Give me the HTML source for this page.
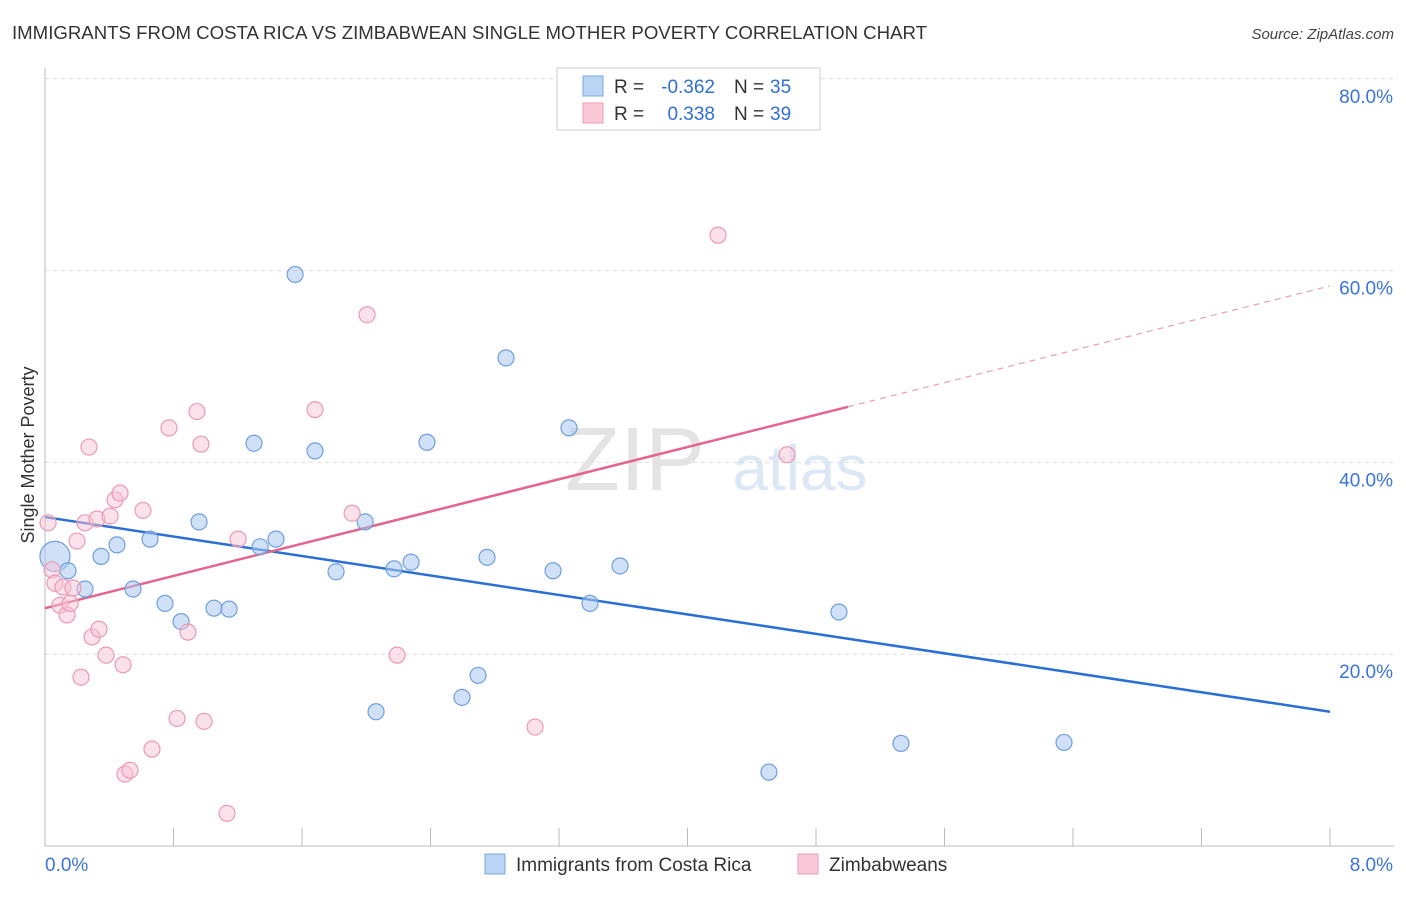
<!DOCTYPE html>
<html><head><meta charset="utf-8"><style>
body{margin:0;background:#fff;font-family:"Liberation Sans",sans-serif}
svg text{font-family:"Liberation Sans",sans-serif}
</style></head><body>
<svg id="c" width="1406" height="892" xmlns="http://www.w3.org/2000/svg">
<text x="12" y="39" font-size="18" fill="#333" textLength="915" lengthAdjust="spacingAndGlyphs">IMMIGRANTS FROM COSTA RICA VS ZIMBABWEAN SINGLE MOTHER POVERTY CORRELATION CHART</text>
<text x="1394" y="39" font-size="15" fill="#444" font-style="italic" text-anchor="end">Source: ZipAtlas.com</text>
<text x="34" y="455" font-size="18" fill="#333" text-anchor="middle" transform="rotate(-90 34 455)">Single Mother Poverty</text>
<text x="635" y="490" font-size="90" fill="#e4e4e4" font-family="Liberation Serif" text-anchor="middle">ZIP</text>
<text x="800" y="490" font-size="64" fill="#dde8f6" text-anchor="middle">atlas</text>
<g id="grid"></g><g id="lines"></g><g id="pts"></g>
<g>
<rect x="557" y="68" width="263" height="62" fill="#fff" stroke="#ccc"/>
<rect x="583" y="76" width="20" height="20" fill="#b9d4f5" stroke="#7aa8e0"/>
<rect x="583" y="103" width="20" height="20" fill="#f9c9d8" stroke="#ee9ab5"/>
<text x="614" y="93" font-size="19" fill="#333">R =</text>
<text x="715" y="93" font-size="19" fill="#2f6fd6" text-anchor="end">-0.362</text>
<text x="734" y="93" font-size="19" fill="#333">N =</text>
<text x="770" y="93" font-size="19" fill="#2f6fd6">35</text>
<text x="614" y="120" font-size="19" fill="#333">R =</text>
<text x="715" y="120" font-size="19" fill="#2f6fd6" text-anchor="end">0.338</text>
<text x="734" y="120" font-size="19" fill="#333">N =</text>
<text x="770" y="120" font-size="19" fill="#2f6fd6">39</text>
</g>
<g>
<rect x="485" y="854" width="20" height="20" fill="#b9d4f5" stroke="#7aa8e0"/>
<text x="516" y="871" font-size="19" fill="#333">Immigrants from Costa Rica</text>
<rect x="798" y="854" width="20" height="20" fill="#f9c9d8" stroke="#ee9ab5"/>
<text x="829" y="871" font-size="19" fill="#333">Zimbabweans</text>
</g>
</svg>
<script>
const yTicks=[20,40,60,80];
const xTickLabels=["0.0%","8.0%"];
const blueX=[0.062,0.143,0.249,0.349,0.448,0.548,0.654,0.747,0.847,0.959,1.052,1.146,1.301,1.339,1.438,1.557,1.681,1.812,1.993,2.061,2.173,2.279,2.378,2.596,2.696,2.752,2.870,3.163,3.262,3.393,3.580,4.507,4.943,5.329,6.344];
const blueY=[30.2,28.7,26.8,30.2,31.4,26.8,32.0,25.3,23.4,33.8,24.8,24.7,42.0,31.2,32.0,59.6,41.2,28.6,33.8,14.0,28.9,29.6,42.1,15.5,17.8,30.1,50.9,28.7,43.6,25.3,29.2,7.7,24.4,10.7,10.8];
const pinkX=[0.019,0.044,0.062,0.093,0.112,0.137,0.156,0.174,0.199,0.224,0.249,0.274,0.293,0.324,0.336,0.380,0.405,0.436,0.467,0.486,0.498,0.529,0.610,0.666,0.772,0.822,0.890,0.946,0.971,0.990,1.133,1.202,1.681,1.912,2.005,2.192,3.051,4.190,4.620];
const pinkY=[33.7,28.8,27.4,25.1,27.0,24.1,25.3,26.9,31.8,17.6,33.7,41.6,21.8,34.1,22.6,19.9,34.4,36.1,36.8,18.9,7.5,7.9,35.0,10.1,43.6,13.3,22.3,45.3,41.9,13.0,3.4,32.0,45.5,34.7,55.4,19.9,12.4,63.7,40.8];
const blueTrend=[34.3,14.0];
const pinkTrend=[24.8,58.4];
const pinkSolidEnd=5.0;
const X=v=>45+v/8*1285, Y=v=>846-v*9.59;
const NS="http://www.w3.org/2000/svg";
function mk(t,a,p){const e=document.createElementNS(NS,t);for(const k in a)e.setAttribute(k,a[k]);p.appendChild(e);return e;}
const g=document.getElementById('grid');
yTicks.forEach(v=>{
 const l=mk('line',{x1:45,x2:1394,y1:Y(v),y2:Y(v),stroke:'#ddd','stroke-dasharray':'4 4'},g);
 
 
 const t=mk('text',{x:1393,y:Y(v)+24,'font-size':19,fill:'#3a74d8','text-anchor':'end'},g);t.textContent=v.toFixed(1)+'%';
 
 
});
mk('line',{x1:45,x2:45,y1:68,y2:846,stroke:'#bbb'},g);
mk('line',{x1:45,x2:1394,y1:846,y2:846,stroke:'#bbb'},g);
for(let i=0;i<=10;i++){mk('line',{x1:X(i*0.8),x2:X(i*0.8),y1:828,y2:846,stroke:'#bbb'},g);}
xTickLabels.forEach((s,i)=>{const t=mk('text',{x:i?1393:45,y:871,'font-size':19,fill:'#3a74d8','text-anchor':i?'end':'start'},g);t.textContent=s;
 
 });
const L=document.getElementById('lines');
const pAt=x=>pinkTrend[0]+(pinkTrend[1]-pinkTrend[0])*x/8;
let l1=mk('line',{x1:X(0),y1:Y(blueTrend[0]),x2:X(8),y2:Y(blueTrend[1]),stroke:'#2a6fd6','stroke-width':2.5},L);


let l2=mk('line',{x1:X(0),y1:Y(pinkTrend[0]),x2:X(pinkSolidEnd),y2:Y(pAt(pinkSolidEnd)),stroke:'#e4648d','stroke-width':2.5},L);


let l3=mk('line',{x1:X(pinkSolidEnd),y1:Y(pAt(pinkSolidEnd)),x2:X(8),y2:Y(pinkTrend[1]),stroke:'#e4a0b6','stroke-width':1.2,'stroke-dasharray':'6 5'},L);


const P=document.getElementById('pts');
blueX.forEach((x,i)=>{const c=mk('circle',{cx:X(x),cy:Y(blueY[i]),r:i==0?15:8,fill:'rgba(170,200,240,0.55)',stroke:'#6f9fe0','stroke-width':1.2},P);
 
 });
pinkX.forEach((x,i)=>{const c=mk('circle',{cx:X(x),cy:Y(pinkY[i]),r:8,fill:'rgba(248,195,212,0.5)',stroke:'#eb9ab4','stroke-width':1.2},P);
 
 });
</script>
</body></html>
